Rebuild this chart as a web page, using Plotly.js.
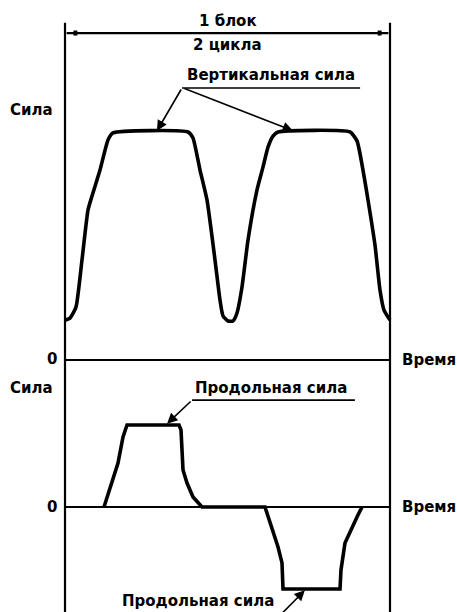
<!DOCTYPE html>
<html>
<head>
<meta charset="utf-8">
<script src="https://cdn.plot.ly/plotly-3.0.1.min.js"></script>
<style>html,body{margin:0;padding:0;background:#fff;}#chart{width:457px;height:612px;}</style>
</head>
<body>
<div id="chart"></div>
<script>
// Time within one block (0..100 = 1 block = 2 cycles)
var blockStart = 0;
var blockEnd = 100;

// Vertical force (plateau = 100)
var vertTime  = [0, 1.54, 3.38, 5.23, 7.08, 8.31, 10.77, 13.23, 14.77, 37.85, 39.38, 41.54, 43.69, 46.15, 47.69, 48.62, 50.15, 51.69, 52.92, 54.46, 56.31, 59.08, 60.92, 62.46, 64.0, 65.54, 87.69, 89.85, 91.69, 93.23, 95.38, 96.92, 98.15, 100];
var vertForce = [17.5, 18.4, 23.2, 43.9, 65.8, 71.9, 83.3, 96.5, 99.6, 100, 97.4, 83.3, 70.2, 43.9, 26.3, 19.3, 17.1, 17.1, 20.6, 32.0, 52.6, 74.6, 84.6, 93.4, 98.2, 100, 100, 96.1, 83.3, 70.2, 50.4, 30.7, 21.9, 17.5];

// Longitudinal force (plateau = +/-50)
var longTime  = [12.0, 13.85, 16.31, 17.85, 19.08, 35.08, 35.69, 36.31, 37.54, 39.38, 42.15, 61.54, 63.08, 65.54, 66.77, 67.08, 84.62, 84.92, 86.15, 88.31, 89.85, 91.38];
var longForce = [0, 12.2, 26.8, 42.7, 50, 50, 47.0, 22.6, 14.6, 6.1, 0, 0, -9.8, -24.4, -34.1, -50, -50, -38.4, -22.0, -12.2, -6.1, 0];

// Labels
var labelBlock = "1 блок";
var labelCycles = "2 цикла";
var labelForce = "Сила";
var labelTime = "Время";
var labelZero = "0";
var labelVert = "Вертикальная сила";
var labelLong = "Продольная сила";

var FONT = {family: "DejaVu Sans", size: 15, color: "#000", weight: "bold"};

var traces = [
  {x: vertTime, y: vertForce, xaxis: "x", yaxis: "y", mode: "lines",
   line: {color: "#000", width: 3.6, shape: "spline", smoothing: 0.5}, hoverinfo: "skip"},
  {x: longTime, y: longForce, xaxis: "x", yaxis: "y2", mode: "lines",
   line: {color: "#000", width: 3.6, shape: "linear"}, hoverinfo: "skip"}
];

var blk = "#000";
var shapes = [
  {type: "line", xref: "x", yref: "paper", x0: blockStart, x1: blockStart, y0: 0, y1: 0.963, line: {color: blk, width: 2.2}},
  {type: "line", xref: "x", yref: "paper", x0: blockEnd, x1: blockEnd, y0: 0, y1: 0.963, line: {color: blk, width: 2.2}},
  {type: "line", xref: "x", yref: "y", x0: blockStart, x1: blockEnd, y0: 0, y1: 0, line: {color: blk, width: 2.2}},
  {type: "line", xref: "x", yref: "y2", x0: blockStart, x1: blockEnd, y0: 0, y1: 0, line: {color: blk, width: 2.2}},
  {type: "line", xref: "x", yref: "y", x0: blockStart + 0.5, x1: blockEnd - 0.5, y0: 143.4, y1: 143.4, line: {color: blk, width: 2.2}},
  {type: "rect", xref: "x", yref: "y", x0: 2.6, x1: 3.8, y0: 142.3, y1: 144.5, fillcolor: blk, line: {width: 0}},
  {type: "rect", xref: "x", yref: "y", x0: 96.2, x1: 97.4, y0: 142.3, y1: 144.5, fillcolor: blk, line: {width: 0}},
  {type: "line", xref: "x", yref: "y", x0: 36.0, x1: 90.8, y0: 119.3, y1: 119.3, line: {color: blk, width: 1.6}},
  {type: "line", xref: "x", yref: "y2", x0: 39.1, x1: 89.2, y0: 65.2, y1: 65.2, line: {color: blk, width: 1.6}}
];

function txt(text, x, y, yref, xanchor) {
  return {text: text, x: x, y: y, xref: "x", yref: yref, showarrow: false,
          xanchor: xanchor || "center", yanchor: "middle", font: FONT};
}
function arrow(x, y, ax, ay, yref) {
  return {text: "", x: x, y: y, ax: ax, ay: ay, xref: "x", yref: yref, axref: "x", ayref: yref,
          showarrow: true, arrowhead: 2, arrowsize: 1.3, arrowwidth: 1.6, arrowcolor: blk, standoff: 0};
}

var annotations = [
  txt(labelBlock, 50.2, 148.5, "y"),
  txt(labelCycles, 50, 138.2, "y"),
  txt(labelVert, 63.4, 125, "y"),
  txt(labelForce, -10.2, 109.6, "y"),
  txt(labelZero, -4, 0.5, "y"),
  txt(labelTime, 103.2, 0, "y", "left"),
  txt(labelForce, -10.2, 72.6, "y2"),
  txt(labelLong, 63.4, 72.6, "y2"),
  txt(labelZero, -4, 0, "y2"),
  txt(labelTime, 103.2, 0, "y2", "left"),
  txt(labelLong, 40.9, -57.3, "y2"),
  arrow(28.3, 100.5, 36.0, 119.3, "y"),
  arrow(70.15, 100.5, 36.3, 119.3, "y"),
  arrow(31.4, 50.8, 39.1, 65.2, "y2"),
  arrow(73.8, -50.8, 66.2, -66, "y2")
];

var layout = {
  width: 457, height: 612,
  margin: {l: 0, r: 0, t: 0, b: 0},
  paper_bgcolor: "#fff", plot_bgcolor: "#fff",
  showlegend: false,
  xaxis: {range: [-20, 120.615], visible: false, fixedrange: true},
  yaxis: {range: [-110.53, 157.89], visible: false, domain: [0, 1], fixedrange: true},
  yaxis2: {range: [-64.02, 309.15], visible: false, overlaying: "y", fixedrange: true},
  shapes: shapes,
  annotations: annotations
};

Plotly.newPlot("chart", traces, layout, {staticPlot: true, displayModeBar: false});
</script>
</body>
</html>
